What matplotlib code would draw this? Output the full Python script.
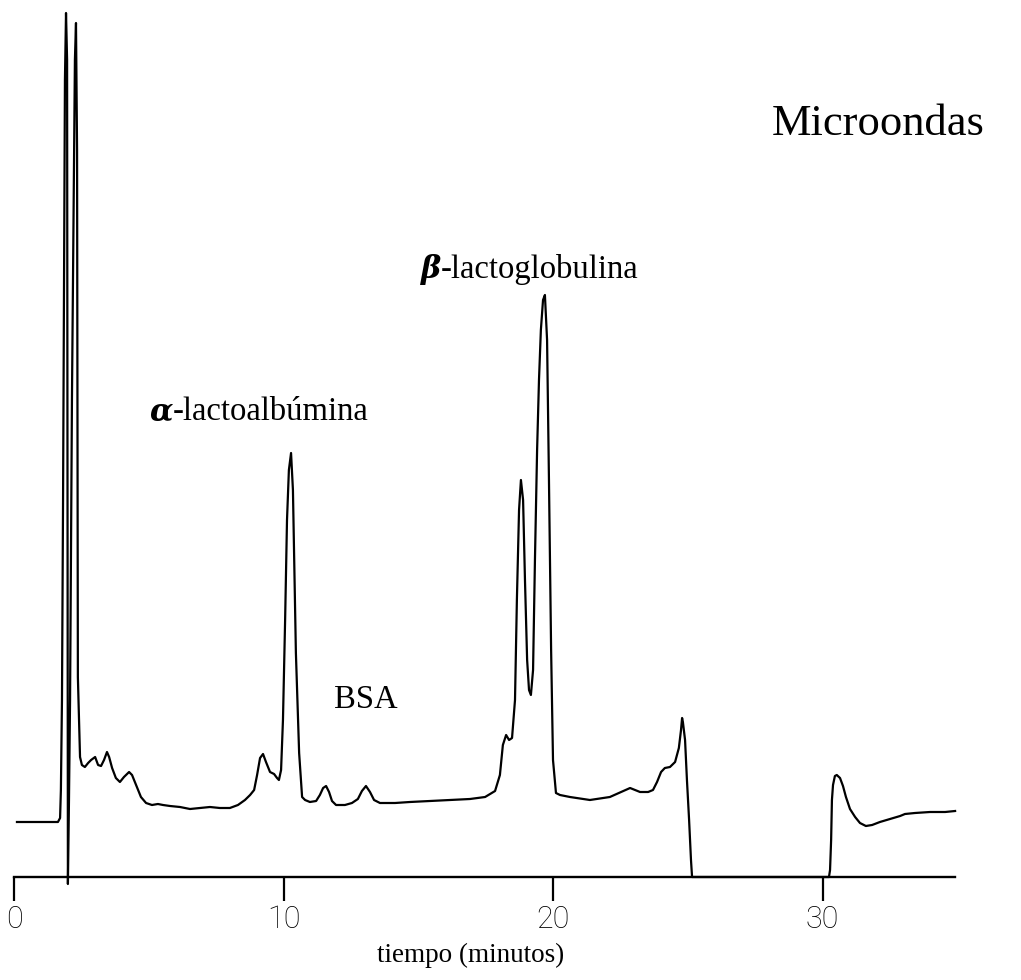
import matplotlib
matplotlib.use("Agg")
import matplotlib.pyplot as plt

# ---- data (time in minutes, detector signal in arbitrary units) ----
time_min = [0.11, 1.63, 1.71, 1.74, 1.78, 1.82, 1.86, 1.89, 1.93, 1.97, 2.00, 2.04, 2.08, 2.15, 2.23,
            2.26, 2.30, 2.34, 2.37, 2.41, 2.45, 2.52, 2.63, 2.75, 2.86, 3.01, 3.12, 3.23, 3.34, 3.45,
            3.53, 3.64, 3.78, 3.93, 4.08, 4.27, 4.38, 4.53, 4.71, 4.90, 5.12, 5.34, 5.53, 5.79, 6.16,
            6.53, 6.90, 7.27, 7.64, 8.01, 8.31, 8.57, 8.76, 8.91, 9.02, 9.13, 9.24, 9.35, 9.50, 9.65,
            9.76, 9.83, 9.91, 9.98, 10.06, 10.13, 10.20, 10.28, 10.35, 10.46, 10.58, 10.69, 10.80,
            10.98, 11.21, 11.35, 11.47, 11.58, 11.69, 11.80, 11.95, 12.28, 12.54, 12.76, 12.91, 13.06,
            13.21, 13.36, 13.58, 14.14, 14.69, 15.44, 16.18, 16.92, 17.48, 17.85, 18.03, 18.14, 18.26,
            18.37, 18.48, 18.59, 18.66, 18.74, 18.81, 18.89, 18.96, 19.04, 19.11, 19.18, 19.26, 19.33,
            19.41, 19.48, 19.55, 19.63, 19.70, 19.78, 19.85, 19.93, 20.00, 20.11, 20.26, 20.63, 21.37,
            22.11, 22.86, 23.23, 23.53, 23.71, 23.86, 24.01, 24.15, 24.34, 24.53, 24.67, 24.75, 24.79,
            24.82, 24.90, 24.97, 25.05, 25.12, 25.16, 25.27, 27.68, 30.24, 30.28, 30.32, 30.35, 30.39,
            30.46, 30.53, 30.65, 30.76, 30.87, 31.02, 31.21, 31.39, 31.61, 31.84, 32.13, 32.50, 32.88,
            33.06, 33.43, 33.99, 34.55, 34.92]
signal = [5.5, 5.5, 5.9, 8.7, 17.7, 37.7, 62.7, 79.7, 86.4, 81.7, -0.7, 7.7, 17.7, 47.7, 72.7,
          81.7, 85.4, 72.7, 20.0, 16.0, 12.0, 11.2, 11.0, 11.4, 11.7, 12.0, 11.2, 11.1, 11.7, 12.5,
          12.0, 10.9, 9.9, 9.5, 10.0, 10.5, 10.2, 9.2, 8.0, 7.4, 7.2, 7.3, 7.2, 7.1, 7.0,
          6.8, 6.9, 7.0, 6.9, 6.9, 7.2, 7.7, 8.2, 8.7, 10.2, 11.9, 12.3, 11.5, 10.5, 10.3,
          9.9, 9.7, 10.7, 15.7, 25.7, 35.7, 40.7, 42.4, 38.7, 22.4, 12.4, 8.0, 7.7,
          7.5, 7.6, 8.2, 8.9, 9.1, 8.5, 7.6, 7.2, 7.2, 7.4, 7.8, 8.6, 9.1,
          8.5, 7.7, 7.4, 7.4, 7.5, 7.6, 7.7, 7.8, 8.0, 8.6, 10.2, 13.2, 14.2,
          13.7, 13.9, 17.7, 27.7, 36.7, 39.7, 37.7, 29.7, 21.7, 18.7, 18.2, 20.7, 31.7,
          42.7, 49.7, 54.7, 57.7, 58.2, 53.7, 39.7, 22.7, 11.7, 8.4, 8.2, 8.0, 7.7,
          8.0, 8.9, 8.5, 8.5, 8.7, 9.5, 10.5, 10.9, 11.0, 11.5, 12.9, 14.7, 15.9,
          15.5, 13.7, 9.7, 5.7, 1.7, 0.0, 0.0, 0.0, 0.0, 0.7, 3.7, 7.7, 9.2,
          10.1, 10.2, 9.9, 9.1, 8.0, 6.8, 6.0, 5.4, 5.1, 5.2, 5.5, 5.8, 6.1,
          6.3, 6.4, 6.5, 6.5, 6.6]

tick_values = [0, 10, 20, 30]
tick_labels = ["0", "10", "20", "30"]
x_label = "tiempo (minutos)"
title_text = "Microondas"
peak_greek = ["\u03b1", "\u03b2"]
peak_names = ["-lactoalbúmina", "-lactoglobulina"]
minor_name = "BSA"

W, H = 1021, 980
fig = plt.figure(figsize=(W / 100, H / 100), dpi=100)
ax_bottom_px = 877
ax = fig.add_axes([0, 1 - ax_bottom_px / H, 1, ax_bottom_px / H])
ax.set_xlim(-14 / 26.95, (W - 14) / 26.95)
ax.set_ylim(0, ax_bottom_px / 10)

ax.plot(time_min, signal, color="black", lw=1.6, clip_on=False, solid_joinstyle="round")

for s in ["top", "right", "left"]:
    ax.spines[s].set_visible(False)
ax.spines["bottom"].set_bounds(0, 34.92)
ax.spines["bottom"].set_linewidth(1.7)
ax.set_yticks([])
ax.set_xticks(tick_values)
ax.set_xticklabels(tick_labels, family="Roboto", fontweight="light", fontsize=22)
ax.tick_params(axis="x", direction="out", length=17, width=1.6, pad=3)

serif = ["Liberation Serif", "DejaVu Serif"]
fig.text(471 / W, 1 - 962 / H, x_label, ha="center", va="baseline", family=serif, fontsize=19.5)
fig.text(985 / W, 1 - 135 / H, title_text, ha="right", va="baseline", family=serif, fontsize=32)

# peak labels
lab_fs = 23.5
fig.text(173 / W, 1 - 420 / H, peak_greek[0], ha="right", va="baseline", family="DejaVu Serif",
         fontweight="bold", style="italic", fontsize=22)
fig.text(173 / W, 1 - 420 / H, peak_names[0], ha="left", va="baseline", family=serif, fontsize=lab_fs)
fig.text(441 / W, 1 - 278 / H, peak_greek[1], ha="right", va="baseline", family="DejaVu Serif",
         fontweight="bold", style="italic", fontsize=22)
fig.text(441 / W, 1 - 278 / H, peak_names[1], ha="left", va="baseline", family=serif, fontsize=lab_fs)
fig.text(366 / W, 1 - 708 / H, minor_name, ha="center", va="baseline", family=serif, fontsize=lab_fs)

fig.savefig("out.png", dpi=100)
